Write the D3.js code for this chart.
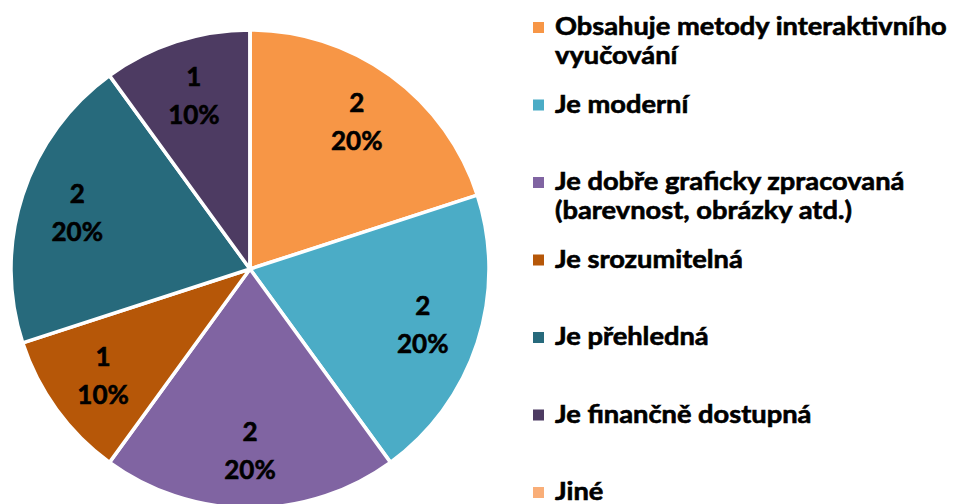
<html lang="cs">
  <head>
    <meta charset="utf-8" />
    <title>Pie chart</title>
    <script src="https://d3js.org/d3.v7.min.js"></script>
    <style>
      body { margin: 0; background: #fff; }
      text { font-family: Lato, "Open Sans", sans-serif; font-weight: bold; fill: #000; stroke: #000; stroke-width: 0.6px; }
    </style>
  </head>
  <body>
    <script type="text/javascript">
      /*************************** Data ***************************/

      var categories = [
        "Obsahuje metody interaktivního vyučování",
        "Je moderní",
        "Je dobře graficky zpracovaná (barevnost, obrázky atd.)",
        "Je srozumitelná",
        "Je přehledná",
        "Je finančně dostupná",
        "Jiné"
      ];
      // legend wraps the long names on two lines, like the original
      var legendLines = [
        ["Obsahuje metody interaktivního", "vyučování"],
        ["Je moderní"],
        ["Je dobře graficky zpracovaná", "(barevnost, obrázky atd.)"],
        ["Je srozumitelná"],
        ["Je přehledná"],
        ["Je finančně dostupná"],
        ["Jiné"]
      ];
      var values = [2, 2, 2, 1, 2, 1, 0];
      var colors = ["#F79646", "#4BACC6", "#8064A2", "#B65708", "#276A7C", "#4D3B62", "#F9AE78"];

      /*************************** Canvas ***************************/

      var width = 953, height = 504;
      var svg = d3.select("body").append("svg")
        .attr("width", width)
        .attr("height", height);

      var cx = 250, cy = 269, radius = 239;
      var total = d3.sum(values);

      var pie = d3.pie().sort(null).value(function (d) { return d; });
      var arc = d3.arc().innerRadius(0).outerRadius(radius);
      var labelArc = d3.arc().innerRadius(radius * 0.76).outerRadius(radius * 0.76);

      var data = pie(values);

      /*************************** Slices ***************************/

      var g = svg.append("g").attr("transform", "translate(" + cx + "," + cy + ")");

      g.selectAll("path.slice")
        .data(data)
        .enter()
        .append("path")
        .attr("class", "slice")
        .attr("d", arc)
        .attr("fill", function (d, i) { return colors[i]; })
        .attr("stroke", "#fff")
        .attr("stroke-width", 3.5)
        .attr("stroke-linejoin", "round");

      /*************************** Labels ***************************/

      var labels = g.selectAll("g.lbl")
        .data(data.filter(function (d) { return d.value > 0; }))
        .enter()
        .append("g")
        .attr("class", "lbl")
        .attr("transform", function (d) {
          var c = labelArc.centroid(d);
          return "translate(" + c[0] + "," + c[1] + ")";
        });

      labels.append("text")
        .attr("text-anchor", "middle")
        .attr("y", -10)
        .style("font-size", "26px")
        .text(function (d) { return d.value; });

      labels.append("text")
        .attr("text-anchor", "middle")
        .attr("y", 28)
        .style("font-size", "26px")
        .text(function (d) { return Math.round(d.value / total * 100) + "%"; });

      /*************************** Legend ***************************/

      var legendY = d3.scaleLinear().domain([0, categories.length - 1]).range([35, 500]);

      var legend = svg.append("g");
      var items = legend.selectAll("g.item")
        .data(categories)
        .enter()
        .append("g")
        .attr("class", "item")
        .attr("transform", function (d, i) { return "translate(0," + legendY(i) + ")"; });

      items.append("rect")
        .attr("x", 533)
        .attr("y", -13)
        .attr("width", 11)
        .attr("height", 11)
        .attr("fill", function (d, i) { return colors[i]; });

      var txt = items.append("text")
        .attr("x", 0)
        .style("font-size", "24.5px");

      txt.selectAll("tspan")
        .data(function (d, i) { return legendLines[i]; })
        .enter()
        .append("tspan")
        .attr("x", 0)
        .attr("dy", function (d, j) { return j === 0 ? 0 : 29; })
        .text(function (d) { return d; });

      // squeeze the text a bit so the widest line matches the original (Calibri is narrow)
      var widest = txt.nodes()[0].querySelector("tspan").getComputedTextLength();
      var sx = 392 / widest;
      txt.attr("transform", "translate(555,0) scale(" + sx + ",1)");
    </script>
  </body>
</html>
